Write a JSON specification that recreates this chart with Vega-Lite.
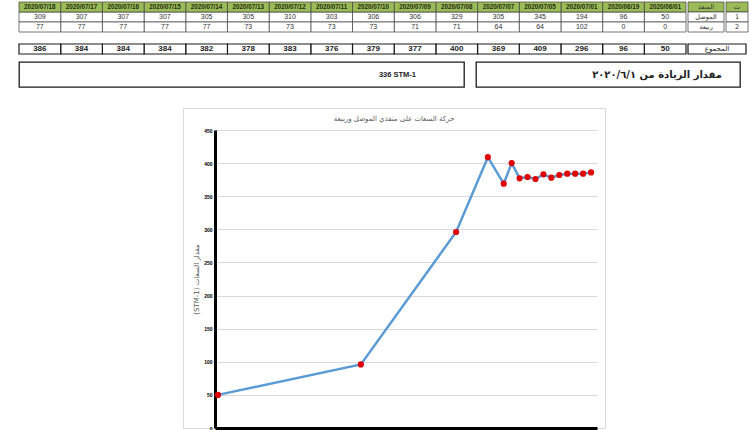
{
  "$schema": "https://vega.github.io/schema/vega-lite/v6.json",
  "background": "white",
  "padding": {"left": 18, "top": 1, "right": 0, "bottom": 0},
  "config": {"view": {"stroke": null}, "font": "Liberation Sans", "concat": {"spacing": 0}},
  "datasets": {
    "t": [
      {"label": "2020/06/01", "date": "2020-06-01", "mosul": 50, "rabia": 0, "total": 50},
      {"label": "2020/06/19", "date": "2020-06-19", "mosul": 96, "rabia": 0, "total": 96},
      {"label": "2020/07/01", "date": "2020-07-01", "mosul": 194, "rabia": 102, "total": 296},
      {"label": "2020/07/05", "date": "2020-07-05", "mosul": 345, "rabia": 64, "total": 409},
      {"label": "2020/07/07", "date": "2020-07-07", "mosul": 305, "rabia": 64, "total": 369},
      {"label": "2020/07/08", "date": "2020-07-08", "mosul": 329, "rabia": 71, "total": 400},
      {"label": "2020/07/09", "date": "2020-07-09", "mosul": 306, "rabia": 71, "total": 377},
      {"label": "2020/07/10", "date": "2020-07-10", "mosul": 306, "rabia": 73, "total": 379},
      {"label": "2020/07/11", "date": "2020-07-11", "mosul": 303, "rabia": 73, "total": 376},
      {"label": "2020/07/12", "date": "2020-07-12", "mosul": 310, "rabia": 73, "total": 383},
      {"label": "2020/07/13", "date": "2020-07-13", "mosul": 305, "rabia": 73, "total": 378},
      {"label": "2020/07/14", "date": "2020-07-14", "mosul": 305, "rabia": 77, "total": 382},
      {"label": "2020/07/15", "date": "2020-07-15", "mosul": 307, "rabia": 77, "total": 384},
      {"label": "2020/07/16", "date": "2020-07-16", "mosul": 307, "rabia": 77, "total": 384},
      {"label": "2020/07/17", "date": "2020-07-17", "mosul": 307, "rabia": 77, "total": 384},
      {"label": "2020/07/18", "date": "2020-07-18", "mosul": 309, "rabia": 77, "total": 386}
    ],
    "lab": [
      {"row": "header", "name": "المنفذ", "num": "ت"},
      {"row": "mosul", "name": "الموصل", "num": "1"},
      {"row": "rabia", "name": "ربيعة", "num": "2"}
    ],
    "sum": [{"name": "المجموع"}],
    "notes": [
      {"box": "a", "text": "336 STM-1"},
      {"box": "b", "text": "مقدار الزيادة من ٢٠٢٠/٦/١"}
    ]
  },
  "spacing": 19,
  "vconcat": [
    {
      "spacing": 6,
      "vconcat": [
        {
          "spacing": 10,
          "vconcat": [
            {
              "spacing": 0,
              "hconcat": [
                {
                  "width": 667, "height": 30,
                  "data": {"name": "t"},
                  "encoding": {"x": {"field": "label", "type": "nominal", "sort": "descending", "axis": null, "scale": {"paddingInner": 0, "paddingOuter": 0}}},
                  "layer": [
                    {
                      "transform": [{"fold": ["mosul", "rabia"], "as": ["row", "val"]}],
                      "mark": {"type": "rect", "fill": "white", "stroke": "#404040", "strokeWidth": 0.7},
                      "encoding": {"y": {"field": "row", "type": "nominal", "axis": null, "scale": {"domain": ["header", "mosul", "rabia"], "paddingInner": 0, "paddingOuter": 0}}}
                    },
                    {
                      "transform": [{"fold": ["mosul", "rabia"], "as": ["row", "val"]}],
                      "mark": {"type": "text", "fontSize": 7, "color": "#333333"},
                      "encoding": {
                        "y": {"field": "row", "type": "nominal", "axis": null, "scale": {"domain": ["header", "mosul", "rabia"], "paddingInner": 0, "paddingOuter": 0}},
                        "text": {"field": "val", "type": "quantitative"}
                      }
                    },
                    {
                      "mark": {"type": "rect", "fill": "#9bbb59", "stroke": "#404040", "strokeWidth": 0.7},
                      "encoding": {"y": {"datum": "header", "type": "nominal", "axis": null}}
                    },
                    {
                      "mark": {"type": "text", "fontSize": 6.3, "fontWeight": "bold", "color": "#1f2a10"},
                      "encoding": {"y": {"datum": "header", "type": "nominal", "axis": null}, "text": {"field": "label"}}
                    }
                  ]
                },
                {
                  "width": 36, "height": 30,
                  "data": {"name": "lab"},
                  "encoding": {"y": {"field": "row", "type": "nominal", "axis": null, "scale": {"domain": ["header", "mosul", "rabia"], "paddingInner": 0, "paddingOuter": 0}}},
                  "layer": [
                    {
                      "mark": {"type": "rect", "stroke": "#404040", "strokeWidth": 0.7},
                      "encoding": {"fill": {"condition": {"test": "datum.row === 'header'", "value": "#9bbb59"}, "value": "white"}}
                    },
                    {
                      "mark": {"type": "text", "fontSize": 6.5, "color": "#333333", "font": "DejaVu Sans"},
                      "encoding": {"text": {"field": "name"}}
                    }
                  ]
                },
                {
                  "width": 22, "height": 30,
                  "data": {"name": "lab"},
                  "encoding": {"y": {"field": "row", "type": "nominal", "axis": null, "scale": {"domain": ["header", "mosul", "rabia"], "paddingInner": 0, "paddingOuter": 0}}},
                  "layer": [
                    {
                      "mark": {"type": "rect", "stroke": "#404040", "strokeWidth": 0.7},
                      "encoding": {"fill": {"condition": {"test": "datum.row === 'header'", "value": "#9bbb59"}, "value": "white"}}
                    },
                    {
                      "mark": {"type": "text", "fontSize": 6.5, "color": "#333333", "font": "DejaVu Sans"},
                      "encoding": {"text": {"field": "num"}}
                    }
                  ]
                }
              ]
            },
            {
              "spacing": 0,
              "hconcat": [
                {
                  "width": 667, "height": 10,
                  "data": {"name": "t"},
                  "encoding": {"x": {"field": "label", "type": "nominal", "sort": "descending", "axis": null, "scale": {"paddingInner": 0, "paddingOuter": 0}}},
                  "layer": [
                    {"mark": {"type": "rect", "fill": "white", "stroke": "#1a1a1a", "strokeWidth": 1.2}},
                    {"mark": {"type": "text", "fontSize": 8, "fontWeight": "bold", "color": "#222222"}, "encoding": {"text": {"field": "total", "type": "quantitative"}}}
                  ]
                },
                {
                  "width": 58, "height": 10,
                  "data": {"name": "sum"},
                  "layer": [
                    {"mark": {"type": "rect", "fill": "white", "stroke": "#1a1a1a", "strokeWidth": 1.2}},
                    {"mark": {"type": "text", "fontSize": 7, "color": "#222222", "font": "DejaVu Sans"}, "encoding": {"text": {"field": "name"}}}
                  ]
                }
              ]
            }
          ]
        },
        {
          "spacing": 10,
          "hconcat": [
            {
              "width": 445, "height": 25,
              "view": {"stroke": "#1a1a1a", "strokeWidth": 1.3},
              "data": {"name": "notes"},
              "transform": [{"filter": "datum.box === 'a'"}],
              "mark": {"type": "text", "align": "right", "dx": -48, "fontSize": 7.5, "fontWeight": "bold", "color": "#222222"},
              "encoding": {"x": {"value": "width"}, "text": {"field": "text"}}
            },
            {
              "width": 264, "height": 25,
              "view": {"stroke": "#1a1a1a", "strokeWidth": 1.3},
              "data": {"name": "notes"},
              "transform": [{"filter": "datum.box === 'b'"}],
              "mark": {"type": "text", "align": "right", "dx": -18, "fontSize": 10, "fontWeight": "bold", "color": "#222222", "font": "DejaVu Sans"},
              "encoding": {"x": {"value": "width"}, "text": {"field": "text"}}
            }
          ]
        }
      ]
    },
    {
      "spacing": 0,
      "hconcat": [
        {
          "width": 163, "height": 5,
          "data": {"values": [{}]},
          "mark": {"type": "point", "opacity": 0}
        },
        {
          "width": 422, "height": 320,
          "view": {"stroke": "#d9d9d9", "strokeWidth": 1},
          "data": {"name": "t"},
          "title": {"text": "حركة السعات على منفذي الموصل وربيعة", "font": "DejaVu Sans", "fontSize": 7, "fontWeight": "normal", "color": "#595959", "anchor": "middle", "offset": -14},
          "encoding": {
            "x": {
              "field": "date", "type": "temporal",
              "scale": {"type": "utc", "domain": [{"year": 2020, "month": 5, "date": 31, "hours": 15, "utc": true}, {"year": 2020, "month": 7, "date": 18, "hours": 18, "utc": true}], "range": [32, 414]},
              "axis": {"title": null, "labels": false, "ticks": false, "grid": false, "domainColor": "black", "domainWidth": 3}
            },
            "y": {
              "field": "total", "type": "quantitative",
              "scale": {"domain": [0, 450], "range": [320, 22], "nice": false},
              "axis": {
                "title": "(STM-1) مقدار السعات", "titleFont": "DejaVu Sans", "titleFontSize": 7, "titleFontWeight": "normal", "titleColor": "#595959", "titlePadding": 4,
                "offset": -32, "values": [0, 50, 100, 150, 200, 250, 300, 350, 400, 450],
                "labelFontSize": 5, "labelFontWeight": "bold", "labelColor": "black", "labelPadding": 3,
                "ticks": false, "domainColor": "black", "domainWidth": 3, "gridColor": "#d9d9d9", "gridWidth": 1
              }
            }
          },
          "layer": [
            {"mark": {"type": "line", "color": "#5b9bd5", "strokeWidth": 2.5}},
            {"mark": {"type": "point", "filled": true, "color": "#e00000", "opacity": 1, "size": 38}}
          ]
        }
      ]
    }
  ]
}
